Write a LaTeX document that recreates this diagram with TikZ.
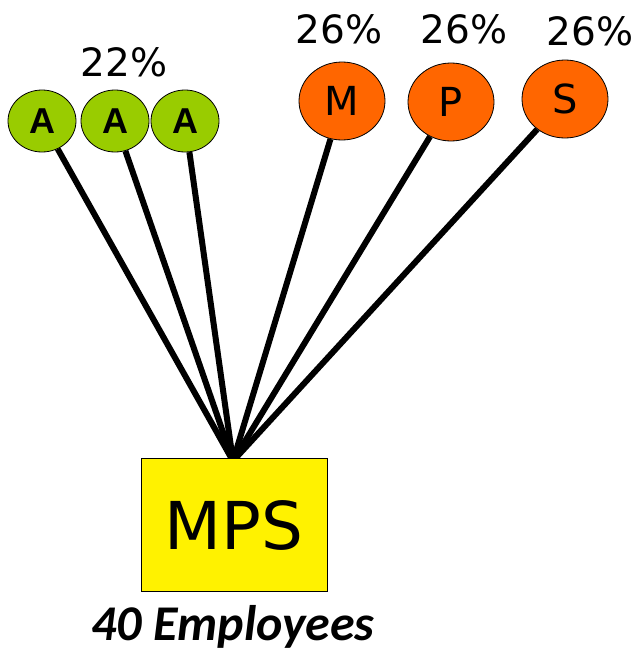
\documentclass[tikz,border=0pt]{standalone}
\usepackage{fontspec}
\setmainfont{DejaVu Sans}
\newfontfamily\arialfont{Liberation Sans}
\newfontfamily\calibrifont{Carlito}
\usetikzlibrary{shapes.geometric}
\definecolor{leafgreen}{RGB}{153,204,0}
\definecolor{partorange}{RGB}{255,102,0}
\begin{document}
\begin{tikzpicture}[x=1pt,y=-1pt,
  smallpart/.style={ellipse, draw, line width=0.8pt, fill=leafgreen, minimum width=68pt, minimum height=62pt, inner sep=0pt, font=\arialfont\bfseries\fontsize{36}{36}\selectfont},
  bigpart/.style={ellipse, draw, line width=0.8pt, fill=partorange, minimum width=86pt, minimum height=78pt, inner sep=0pt, font=\fontsize{40}{40}\selectfont},
  share/.style={font=\fontsize{39}{39}\selectfont},
  link/.style={line width=6pt}]
\useasboundingbox (0,0) rectangle (643,656);
% partners
\node[smallpart] (a1) at (42,121) {A};
\node[smallpart] (a2) at (115,121) {A};
\node[smallpart] (a3) at (185,121) {A};
\node[bigpart] (m) at (342,101) {M};
\node[bigpart] (p) at (451,102) {P};
\node[bigpart] (s) at (565,99) {S};
% shares
\node[share] (shA) at (124,62) {22\%};
\node[share] (shM) at (339,29) {26\%};
\node[share] (shP) at (464,29) {26\%};
\node[share] (shS) at (590,31) {26\%};
% links to the company
\coordinate (hub) at (233,461);
\foreach \n in {a1,a2,a3,m,p,s}
  \draw[link] (\n) -- (hub);
\node[draw, line width=0.8pt, fill=yellow, minimum width=186pt, minimum height=133pt, inner sep=0pt, font=\fontsize{66}{66}\selectfont] (mps) at (234,525) {MPS};
\node[font=\calibrifont\bfseries\itshape\fontsize{50}{50}\selectfont] (staff) at (233,627) {40 Employees};
\end{tikzpicture}
\end{document}
